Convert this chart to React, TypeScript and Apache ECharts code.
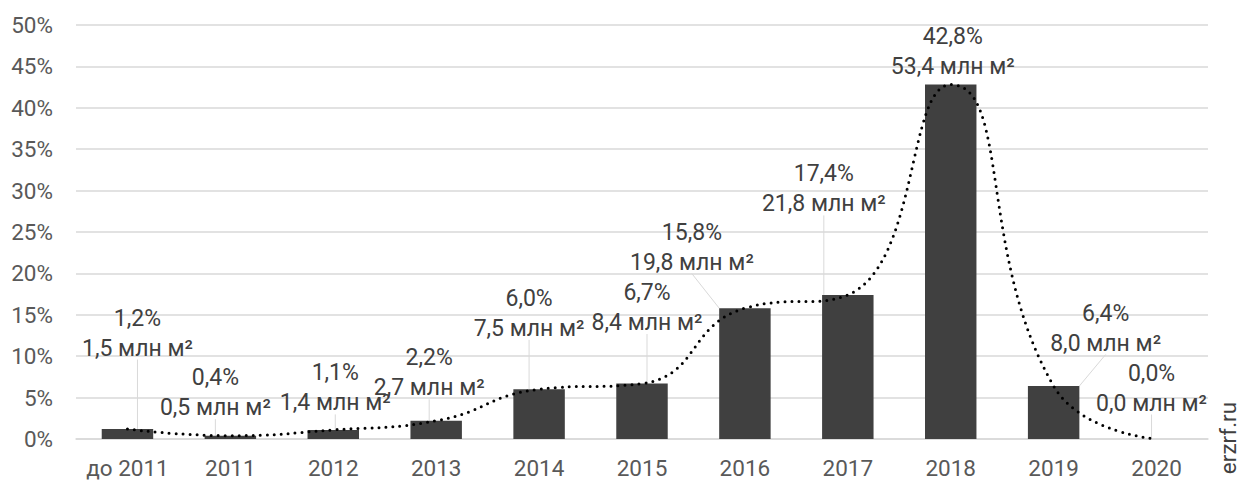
import React, { useEffect, useRef } from "react";
import * as echarts from "echarts";

const categories = ["до 2011", "2011", "2012", "2013", "2014", "2015", "2016", "2017", "2018", "2019", "2020"];
const sharePct = [1.2, 0.4, 1.1, 2.2, 6.0, 6.7, 15.8, 17.4, 42.8, 6.4, 0.0];
const areaMln = [1.5, 0.5, 1.4, 2.7, 7.5, 8.4, 19.8, 21.8, 53.4, 8.0, 0.0];
const yTicks = { min: 0, max: 50, interval: 5 };

// label offsets (layout only) relative to default top label position
const labelOffsets: [number, number][] = [
  [10, -61], [-15, -8], [2, -7], [-7, -13], [-10, -41], [5, -41],
  [-53, -26], [-24, -71], [2, 2], [52, -23], [-5, -16],
];

const fmt = (v: number) => v.toFixed(1).replace(".", ",");

export default function App() {
  const ref = useRef<HTMLDivElement>(null);
  useEffect(() => {
    const chart = echarts.init(ref.current!, null, { renderer: "svg" });
    const font = "Roboto, 'Noto Sans', sans-serif";
    const fs = 22.5;
    chart.setOption({
      animation: false,
      backgroundColor: "#fff",
      grid: { left: 76, right: 40, top: 25, bottom: 43 },
      xAxis: {
        type: "category",
        data: categories,
        axisLine: { show: true, lineStyle: { color: "#d9d9d9", width: 1.5 } },
        axisTick: { show: false },
        axisLabel: { color: "#595959", fontSize: fs, fontFamily: font, margin: 17, interval: 0 },
      },
      yAxis: {
        type: "value",
        min: yTicks.min,
        max: yTicks.max,
        interval: yTicks.interval,
        axisLine: { show: false },
        axisTick: { show: false },
        axisLabel: { color: "#595959", fontSize: fs, fontFamily: font, margin: 23, formatter: "{value}%" },
        splitLine: { lineStyle: { color: "#d9d9d9", width: 1.5 } },
      },
      series: [
        {
          type: "bar",
          data: sharePct.map((v, i) => ({
            value: v,
            labelLine: { show: i !== 8 },
          })),
          barWidth: "50%",
          itemStyle: { color: "#404040" },
          label: {
            show: true,
            position: "top",
            distance: 5,
            formatter: (p: any) => `{a|${fmt(sharePct[p.dataIndex])}%}\n{a|${fmt(areaMln[p.dataIndex])} млн м²}`,
            rich: {
              a: { fontSize: 23, fontFamily: font, color: "#404040", lineHeight: 30, align: "center" },
            },
            align: "center",
          },
          labelLine: { show: true, lineStyle: { color: "#d9d9d9", width: 1 } },
          labelLayout: (p: any) => {
            const o = labelOffsets[p.dataIndex];
            const lr = p.labelRect;
            const r = p.rect;
            const sx = lr.x + lr.width / 2 + o[0];
            const sy = lr.y + lr.height + o[1] + 1;
            const ex = r.x + r.width / 2;
            const ey = Math.min(r.y, r.y + r.height);
            return {
              dx: o[0],
              dy: o[1],
              labelLinePoints: [[sx, sy], [(sx + ex) / 2, (sy + ey) / 2], [ex, ey]],
            };
          },
          z: 2,
        },
        {
          type: "line",
          data: sharePct,
          smooth: 0.5,
          symbol: "none",
          lineStyle: { color: "#000", width: 3, type: [0, 7], cap: "round" },
          z: 5,
        },
      ],
      graphic: [
        {
          type: "text",
          x: 1228,
          y: 438,
          rotation: Math.PI / 2,
          style: {
            text: "erzrf.ru",
            fontSize: fs,
            fontFamily: font,
            fill: "#404040",
            textAlign: "center",
            textVerticalAlign: "middle",
          },
        },
      ],
    });
    return () => chart.dispose();
  }, []);
  return <div ref={ref} style={{ position: "fixed", left: 0, top: 0, width: 1248, height: 482 }} />;
}
